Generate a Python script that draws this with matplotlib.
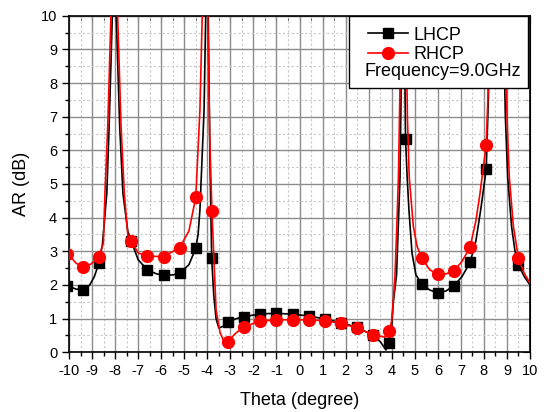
import matplotlib
matplotlib.use("Agg")
import matplotlib.pyplot as plt
from matplotlib.lines import Line2D
from matplotlib.patches import Rectangle
from matplotlib.ticker import MultipleLocator

plt.rcParams['font.family'] = ['Liberation Sans', 'DejaVu Sans']
plt.rcParams['axes.unicode_minus'] = False

# curve vertices (values above 10 are clipped)
lhcp_x = [-10.0, -9.7, -9.4, -9.1, -8.9, -8.7, -8.55, -8.36, -8.26, -8.12, -8.03, -7.95, -7.8, -7.66, -7.45,
          -7.3, -7.0, -6.6, -6.2, -5.9, -5.5, -5.2, -4.8, -4.5, -4.4, -4.32, -4.14, -4.07, -4.01, -3.96, -3.88,
          -3.81, -3.72, -3.62, -3.5, -3.3, -3.1, -2.75, -2.4, -1.7, -1.0, -0.3, 0.4, 1.1, 1.8, 2.5, 3.2, 3.5, 3.75,
          3.9, 4.0, 4.07, 4.21, 4.36, 4.45, 4.5, 4.54, 4.6, 4.67, 4.75, 4.88, 5.05, 5.3, 5.65, 6.0, 6.35,
          6.7, 7.05, 7.4, 7.65, 7.86, 8.1, 8.19, 8.27, 8.55, 8.84, 8.93, 9.03, 9.2, 9.35, 9.5, 9.75, 10.0]
lhcp_y = [1.95, 1.88, 1.85, 2.0, 2.25, 2.65, 3.2, 4.72, 6.7, 10.0, 15.0, 10.0, 6.7, 4.72, 3.6,
          3.31, 2.75, 2.45, 2.33, 2.29, 2.3, 2.35, 2.6, 3.09, 3.5, 4.23, 7.2, 10.0, 15.0, 10.0, 5.5,
          2.79, 1.7, 1.0, 0.72, 0.78, 0.89, 1.0, 1.06, 1.14, 1.16, 1.13, 1.08, 0.99, 0.88, 0.74, 0.5, 0.32, 0.07,
          0.27, 0.8, 1.5, 2.3, 5.2, 10.0, 15.0, 10.0, 6.33, 5.2, 4.2, 2.95, 2.3, 2.03, 1.85, 1.77, 1.82,
          1.98, 2.25, 2.67, 3.3, 4.23, 5.44, 7.5, 10.0, 15.0, 10.0, 7.0, 5.22, 3.73, 3.0, 2.59, 2.25, 2.0]

rhcp_x = [-10.0, -9.7, -9.4, -9.05, -8.7, -8.51, -8.44, -8.32, -8.18, -8.03, -7.89, -7.74, -7.6, -7.43,
          -7.3, -7.0, -6.6, -5.9, -5.2, -4.8, -4.5, -4.32, -4.22, -4.1, -3.98, -3.9, -3.8, -3.62, -3.45,
          -3.3, -3.1, -2.8, -2.4, -1.7, -1.0, -0.3, 0.4, 1.1, 1.8, 2.5, 3.2, 3.71, 3.9, 4.0, 4.07, 4.14,
          4.22, 4.29, 4.36, 4.4, 4.5, 4.62, 4.68, 4.76, 4.94, 5.1, 5.3, 5.65, 6.0, 6.35, 6.7, 7.05, 7.4,
          7.65, 7.83, 8.1, 8.19, 8.24, 8.58, 8.92, 9.0, 9.1, 9.28, 9.5, 9.75, 10.0]
rhcp_y = [2.9, 2.65, 2.54, 2.62, 2.84, 3.24, 4.72, 6.7, 10.0, 15.0, 10.0, 6.7, 4.72, 3.34,
          3.31, 2.95, 2.86, 2.84, 3.11, 3.6, 4.6, 7.2, 10.0, 15.0, 10.0, 6.5, 4.2, 1.26, 0.6,
          0.35, 0.31, 0.55, 0.76, 0.93, 0.96, 0.97, 0.96, 0.94, 0.86, 0.72, 0.52, 0.45, 0.63, 0.95, 1.55, 2.25,
          3.7, 5.2, 7.9, 10.0, 15.0, 10.0, 7.0, 5.2, 3.73, 3.15, 2.81, 2.45, 2.32, 2.33, 2.42, 2.7, 3.13,
          3.9, 4.72, 6.16, 7.9, 10.0, 15.0, 10.0, 7.0, 5.22, 3.73, 2.79, 2.35, 2.05]

# marker samples
lhcp_mx = [-10.1, -9.4, -8.7, -7.3, -6.6, -5.9, -5.2, -4.5, -3.8, -3.1, -2.4, -1.7, -1.0, -0.3, 0.4,
           1.1, 1.8, 2.5, 3.2, 3.9, 4.6, 5.3, 6.0, 6.7, 7.4, 8.1, 9.5]
lhcp_my = [1.97, 1.85, 2.65, 3.31, 2.45, 2.29, 2.35, 3.09, 2.79, 0.89, 1.06, 1.14, 1.16, 1.13, 1.08,
           0.99, 0.88, 0.74, 0.5, 0.27, 6.33, 2.03, 1.77, 1.98, 2.67, 5.44, 2.59]
rhcp_mx = [-10.1, -9.4, -8.7, -7.3, -6.6, -5.9, -5.2, -4.5, -3.8, -3.1, -2.4, -1.7, -1.0, -0.3, 0.4,
           1.1, 1.8, 2.5, 3.2, 3.9, 5.3, 6.0, 6.7, 7.4, 8.1, 9.5]
rhcp_my = [2.92, 2.54, 2.84, 3.31, 2.86, 2.84, 3.11, 4.6, 4.2, 0.31, 0.76, 0.93, 0.96, 0.97, 0.96,
           0.94, 0.86, 0.72, 0.52, 0.63, 2.81, 2.32, 2.42, 3.13, 6.16, 2.79]

fig = plt.figure(figsize=(5.48, 4.12), dpi=100)
ax = fig.add_axes([0.1259, 0.1449, 0.8413, 0.817])

ax.plot(lhcp_x, lhcp_y, color='black', lw=1.2, zorder=3)
ax.plot(lhcp_mx, lhcp_my, 's', color='black', ms=7.5, zorder=3)
ax.plot(rhcp_x, rhcp_y, color='red', lw=1.2, zorder=4)
ax.plot(rhcp_mx, rhcp_my, 'o', color='red', ms=8.5, zorder=4)

ax.set_xlim(-10, 10)
ax.set_ylim(0, 10)
ax.xaxis.set_major_locator(MultipleLocator(1))
ax.xaxis.set_minor_locator(MultipleLocator(0.5))
ax.yaxis.set_major_locator(MultipleLocator(1))
ax.yaxis.set_minor_locator(MultipleLocator(0.5))
ax.grid(which='major', color='#8c8c8c', lw=1.0, zorder=0)
ax.grid(which='minor', color='#c8c8c8', lw=0.8, ls=(0, (2, 2)), zorder=0)
ax.set_axisbelow(True)

ax.tick_params(which='both', direction='out', labelsize=10.5, width=1, colors='black')
ax.tick_params(which='major', length=5)
ax.tick_params(which='minor', length=3)
for s in ax.spines.values():
    s.set_linewidth(1.2)

# inward ticks on the top and right edges
top = ax.secondary_xaxis('top')
top.xaxis.set_major_locator(MultipleLocator(1))
top.xaxis.set_minor_locator(MultipleLocator(0.5))
top.tick_params(which='both', direction='in', labeltop=False)
top.tick_params(which='major', length=5)
top.tick_params(which='minor', length=3)
right = ax.secondary_yaxis('right')
right.yaxis.set_major_locator(MultipleLocator(1))
right.yaxis.set_minor_locator(MultipleLocator(0.5))
right.tick_params(which='both', direction='in', labelright=False)
right.tick_params(which='major', length=5)
right.tick_params(which='minor', length=3)

ax.set_xlabel('Theta (degree)', fontsize=13, labelpad=10)
ax.set_ylabel('AR (dB)', fontsize=13, labelpad=8)

# legend box
ax.add_patch(Rectangle((0.607, 0.785), 0.389, 0.215, transform=ax.transAxes,
                       facecolor='white', edgecolor='black', lw=1.0, zorder=10))
handles = [Line2D([], [], color='black', marker='s', ms=7.5, lw=1.2),
           Line2D([], [], color='red', marker='o', ms=8.5, lw=1.2)]
leg = ax.legend(handles, ['LHCP', 'RHCP'], loc='upper left', bbox_to_anchor=(0.625, 1.0),
                frameon=False, fontsize=13, handlelength=2.2, handletextpad=0.3,
                labelspacing=0.15, borderpad=0.1)
leg.set_zorder(11)
ax.text(0.64, 0.81, 'Frequency=9.0GHz', transform=ax.transAxes, fontsize=13,
        ha='left', va='bottom', zorder=11)

fig.savefig('out.png', dpi=100)
